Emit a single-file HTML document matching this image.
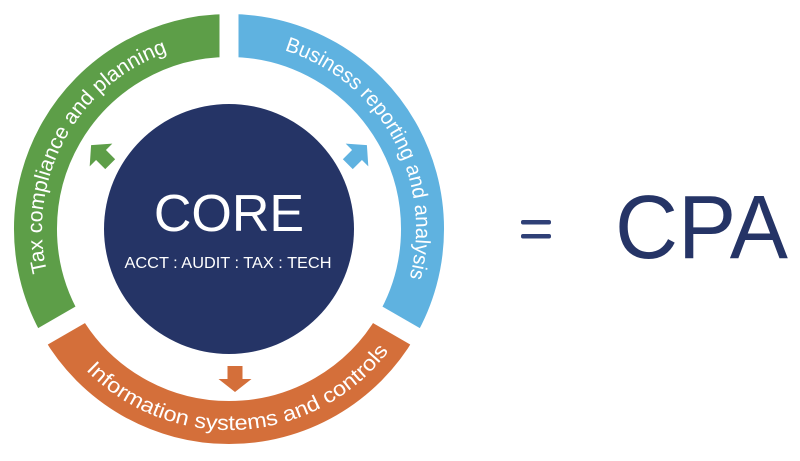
<!DOCTYPE html>
<html><head><meta charset="utf-8"><style>
html,body{margin:0;padding:0;background:#fff;}
svg{display:block;}
</style></head><body>
<svg width="800" height="461" viewBox="0 0 800 461" xmlns="http://www.w3.org/2000/svg">
<defs>
<path id="pg" d="M67.1,322.5 A187,187 0 0 1 229,42"/>
<path id="pb" d="M229,42 A187,187 0 0 1 391,322.5"/>
<path id="po" d="M54.9,329.5 A201,201 0 0 0 403.1,329.5"/>
</defs>
<g fill="none" stroke-width="43">
<path d="M61.4,325.75 A193.5,193.5 0 0 1 229,35.5" stroke="#5d9e48"/>
<path d="M229,35.5 A193.5,193.5 0 0 1 396.6,325.75" stroke="#5fb2e0"/>
<path d="M396.6,325.75 A193.5,193.5 0 0 1 61.4,325.75" stroke="#d46f3a"/>
</g>
<g stroke="#fff" stroke-width="19">
<line x1="229" y1="229" x2="229" y2="0"/>
<line x1="229" y1="229" x2="437" y2="349"/>
<line x1="229" y1="229" x2="21" y2="349"/>
</g>
<circle cx="229" cy="229" r="125" fill="#253466"/>
<g font-family="'Liberation Sans',sans-serif" fill="#fff" font-size="21">
<text><textPath href="#pg" startOffset="49%" text-anchor="middle" textLength="274" lengthAdjust="spacingAndGlyphs">Tax compliance and planning</textPath></text>
<text><textPath href="#pb" startOffset="51%" text-anchor="middle" textLength="287" lengthAdjust="spacingAndGlyphs">Business reporting and analysis</textPath></text>
<text><textPath href="#po" startOffset="53%" text-anchor="middle" textLength="344" lengthAdjust="spacingAndGlyphs">Information systems and controls</textPath></text>
</g>
<g font-family="'Liberation Sans',sans-serif" fill="#fff" text-anchor="middle">
<text x="229" y="231" font-size="52">CORE</text>
<text x="228" y="268" font-size="16" textLength="207" lengthAdjust="spacingAndGlyphs">ACCT : AUDIT : TAX : TECH</text>
</g>
<g>
<polygon transform="translate(101,155) rotate(-45)" points="-7,13 7,13 7,0 16,0 0,-14 -16,0 -7,0" fill="#5d9e48"/>
<polygon transform="translate(357,155) rotate(45)" points="-7,13 7,13 7,0 16,0 0,-14 -16,0 -7,0" fill="#5fb2e0"/>
<polygon transform="translate(235,379) rotate(180)" points="-7.5,13 7.5,13 7.5,0 16.5,0 0,-13 -16.5,0 -7.5,0" fill="#d46f3a"/>
</g>
<g fill="#2f4077">
<rect x="521" y="220" width="30" height="4.5" rx="2"/>
<rect x="521" y="234" width="30" height="4.5" rx="2"/>
</g>
<text x="615" y="258" font-family="'Liberation Sans',sans-serif" font-size="90" fill="#253466" textLength="173" lengthAdjust="spacingAndGlyphs">CPA</text>
</svg>
</body></html>
